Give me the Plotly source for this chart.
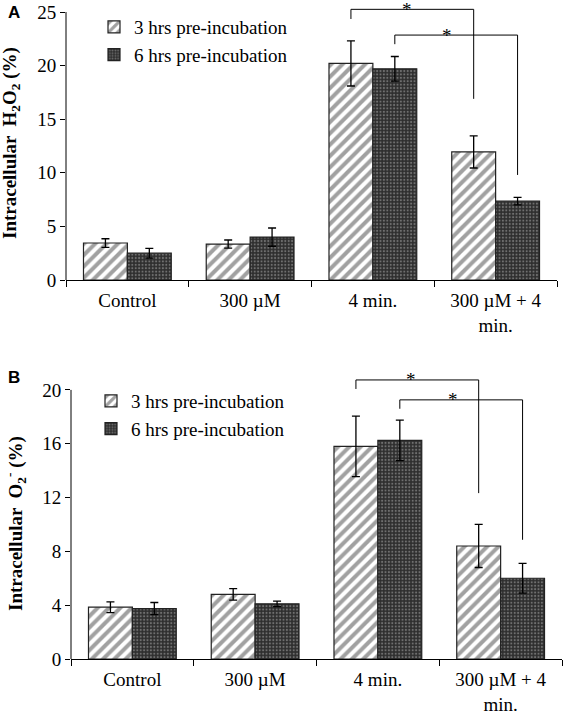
import plotly.graph_objects as go

# ---------------- data ----------------
categories = ["Control", "300 µM", "4 min.", "300 µM + 4<br>min."]
series_names = ["3 hrs pre-incubation", "6 hrs pre-incubation"]

h2o2_3h = [3.45, 3.35, 20.2, 11.95]
h2o2_3h_err = [0.4, 0.38, 2.1, 1.5]
h2o2_6h = [2.5, 4.0, 19.7, 7.35]
h2o2_6h_err = [0.45, 0.85, 1.15, 0.35]

o2_3h = [3.85, 4.8, 15.8, 8.4]
o2_3h_err = [0.4, 0.43, 2.25, 1.6]
o2_6h = [3.75, 4.1, 16.25, 6.0]
o2_6h_err = [0.45, 0.2, 1.5, 1.1]

ticks_A = [0, 5, 10, 15, 20, 25]
ticks_B = [0, 4, 8, 12, 16, 20]

# significance brackets: (from category, to category, series index,
#                         bracket level, left end, right end, star x)
sig_A = [(2, 3, 0, 25.25, 24.35, 16.9, 2.28),
         (2, 3, 1, 22.85, 22.0, 9.8, 2.6)]
sig_B = [(2, 3, 0, 20.74, 20.07, 12.33, 2.27),
         (2, 3, 1, 19.26, 18.6, 8.86, 2.61)]

# ---------------- layout helpers ----------------
W, H = 563, 713
FONT = "Liberation Serif"
BARGAP = 0.285
OFF = (1 - BARGAP) / 4.0


def px_x(p):
    return p / W


def px_y(p):
    return (H - p) / H


hatch = dict(shape="/", fgcolor="#444444", bgcolor="white", size=8, solidity=0.5)
dots = dict(shape=".", fgcolor="#b0b0b0", bgcolor="#2e2e2e", size=3.4, solidity=0.3)
patterns = [hatch, dots]

fig = go.Figure()

panels = [
    ("x", "y", "legend", [h2o2_3h, h2o2_6h], [h2o2_3h_err, h2o2_6h_err]),
    ("x2", "y2", "legend2", [o2_3h, o2_6h], [o2_3h_err, o2_6h_err]),
]
for xa, ya, lg, vals, errs in panels:
    for i in range(2):
        fig.add_trace(go.Bar(
            x=categories, y=vals[i], name=series_names[i],
            xaxis=xa, yaxis=ya, legend=lg, legendgroup=lg + str(i),
            marker=dict(color="white" if i == 0 else "#2e2e2e",
                        pattern=patterns[i],
                        line=dict(color="#222222", width=1.2)),
            error_y=dict(type="data", array=errs[i], color="black",
                         thickness=1.3, width=4),
        ))

axis_common = dict(showgrid=False, zeroline=False, automargin=False,
                   tickfont=dict(family=FONT, size=19, color="black"),
                   ticks="outside", tickcolor="black")

fig.update_layout(
    width=W, height=H, autosize=False,
    margin=dict(l=0, r=0, t=0, b=0, autoexpand=False),
    paper_bgcolor="white", plot_bgcolor="white",
    barmode="group", bargap=BARGAP, bargroupgap=0,
    font=dict(family=FONT, size=19, color="black"),
    xaxis=dict(domain=[px_x(66), px_x(557)], anchor="y", type="category",
               showline=True, linecolor="black", linewidth=1,
               tickson="boundaries", ticklen=6, ticklabelstandoff=3, **axis_common),
    yaxis=dict(domain=[px_y(280), px_y(1.3)], anchor="x", range=[0, 26.0],
               tickvals=ticks_A, ticklen=5, showline=False, **axis_common),
    xaxis2=dict(domain=[px_x(71), px_x(562)], anchor="y2", type="category",
                showline=True, linecolor="black", linewidth=1,
                tickson="boundaries", ticklen=6, ticklabelstandoff=3, **axis_common),
    yaxis2=dict(domain=[px_y(659), px_y(363)], anchor="x2", range=[0, 22.0],
                tickvals=ticks_B, ticklen=5, showline=False, **axis_common),
    legend=dict(x=px_x(94), y=px_y(8), xanchor="left", yanchor="top",
                bgcolor="rgba(0,0,0,0)", font=dict(family=FONT, size=19),
                tracegroupgap=0),
    legend2=dict(x=px_x(91), y=px_y(382), xanchor="left", yanchor="top",
                 bgcolor="rgba(0,0,0,0)", font=dict(family=FONT, size=19),
                 tracegroupgap=0),
)

shapes = []
annotations = []

# y axis lines that stop at the top tick
shapes.append(dict(type="line", xref="x domain", yref="y", x0=0, x1=0,
                   y0=0, y1=ticks_A[-1], line=dict(color="black", width=1)))
shapes.append(dict(type="line", xref="x2 domain", yref="y2", x0=0, x1=0,
                   y0=0, y1=ticks_B[-1], line=dict(color="black", width=1)))

for xa, ya, sig in [("x", "y", sig_A), ("x2", "y2", sig_B)]:
    for c0, c1, s, top, lend, rend, sx in sig:
        xl = c0 + (OFF if s == 1 else -OFF)
        xr = c1 + (OFF if s == 1 else -OFF)
        ln = dict(color="black", width=1)
        shapes.append(dict(type="line", xref=xa, yref=ya, x0=xl, x1=xl, y0=lend, y1=top, line=ln))
        shapes.append(dict(type="line", xref=xa, yref=ya, x0=xl, x1=xr, y0=top, y1=top, line=ln))
        shapes.append(dict(type="line", xref=xa, yref=ya, x0=xr, x1=xr, y0=top, y1=rend, line=ln))
        annotations.append(dict(xref=xa, yref=ya, x=sx, y=top, text="*",
                                showarrow=False, yanchor="middle", xanchor="center",
                                font=dict(family=FONT, size=19, color="black")))

# y-axis titles
annotations.append(dict(xref="paper", yref="paper", x=px_x(11), y=px_y(143),
                        text="<b>Intracellular  H<sub>2</sub>O<sub>2</sub> (%)</b>",
                        textangle=-90, showarrow=False, xanchor="center", yanchor="middle",
                        font=dict(family=FONT, size=19, color="black")))
annotations.append(dict(xref="paper", yref="paper", x=px_x(15), y=px_y(524),
                        text="<b>Intracellular  O<sub>2</sub><sup>-</sup> (%)</b>",
                        textangle=-90, showarrow=False, xanchor="center", yanchor="middle",
                        font=dict(family=FONT, size=19, color="black")))

# panel letters
annotations.append(dict(xref="paper", yref="paper", x=px_x(6), y=px_y(1),
                        text="<b>A</b>", showarrow=False, xanchor="left", yanchor="top",
                        font=dict(family="Liberation Sans", size=17, color="black")))
annotations.append(dict(xref="paper", yref="paper", x=px_x(6), y=px_y(366),
                        text="<b>B</b>", showarrow=False, xanchor="left", yanchor="top",
                        font=dict(family="Liberation Sans", size=17, color="black")))

fig.update_layout(shapes=shapes, annotations=annotations)

fig.write_html("out.html", config={"displayModeBar": False},
               post_script="document.body.style.margin='0';")
